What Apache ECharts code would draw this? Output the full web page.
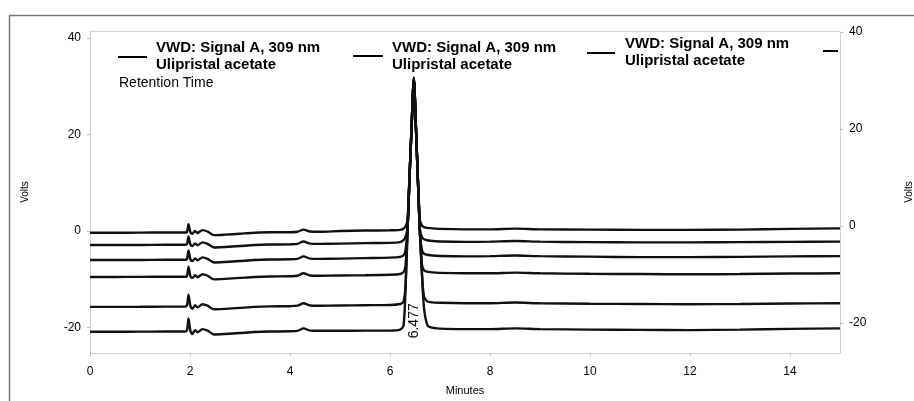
<!DOCTYPE html>
<html>
<head>
<meta charset="utf-8">
<script src="https://cdn.jsdelivr.net/npm/echarts@6/dist/echarts.min.js"></script>
<style>
html,body{margin:0;padding:0;background:#fff;}
#chart{width:914px;height:401px;}
</style>
</head>
<body>
<div id="chart"></div>
<script>
// ---- data ----
const TIME = [0, 0.5, 1.0, 1.5, 1.9, 1.94, 1.97, 2.01, 2.05, 2.10, 2.15, 2.25, 2.35, 2.48, 2.7, 3.0, 3.3, 3.6, 4.0, 4.15, 4.27, 4.4, 4.6, 5.0, 5.5, 6.0, 6.2, 6.27, 6.31, 6.35, 6.39, 6.43, 6.477, 6.52, 6.56, 6.60, 6.64, 6.68, 6.74, 6.8, 7.0, 7.5, 8.0, 8.5, 9.0, 10, 11, 12, 13, 14, 15];

const TRACE_1 = [-0.35, -0.35, -0.33, -0.3, -0.3, -0.2, 1.4, -0.3, -0.55, 0.0, -0.4, 0.2, -0.1, -0.85, -0.75, -0.55, -0.35, -0.25, -0.25, -0.15, 0.3, -0.1, -0.15, 0.0, 0.1, 0.15, 0.25, 0.5, 0.95, 2.2, 11.3, 21.2, 31.8, 21.2, 10.3, 2.2, 1.1, 0.8, 0.65, 0.6, 0.45, 0.35, 0.35, 0.5, 0.35, 0.3, 0.25, 0.25, 0.3, 0.45, 0.55];
const TRACE_2 = [-2.9, -2.9, -2.88, -2.85, -2.85, -2.7, -1.1, -2.85, -3.1, -2.55, -2.95, -2.35, -2.65, -3.4, -3.3, -3.1, -2.9, -2.8, -2.75, -2.65, -2.15, -2.6, -2.65, -2.6, -2.5, -2.45, -2.3, -1.9, -1.2, 0.6, 11.0, 21.0, 31.7, 21.0, 10.0, 0.2, -1.3, -1.7, -1.9, -2.0, -2.15, -2.25, -2.2, -2.05, -2.2, -2.3, -2.35, -2.35, -2.3, -2.25, -2.2];
const TRACE_3 = [-6.0, -6.0, -5.98, -5.95, -5.95, -5.8, -4.0, -5.95, -6.2, -5.65, -6.05, -5.45, -5.75, -6.5, -6.4, -6.2, -6.0, -5.9, -5.85, -5.75, -5.25, -5.7, -5.75, -5.7, -5.6, -5.5, -5.35, -5.0, -4.0, 0.2, 11.0, 21.0, 31.6, 21.0, 10.0, -0.8, -4.0, -4.7, -4.9, -5.0, -5.15, -5.25, -5.2, -5.05, -5.2, -5.3, -5.4, -5.4, -5.35, -5.25, -5.2];
const TRACE_4 = [-9.5, -9.5, -9.48, -9.45, -9.45, -9.3, -7.4, -9.45, -9.7, -9.15, -9.55, -8.95, -9.25, -10.0, -9.9, -9.7, -9.5, -9.4, -9.35, -9.25, -8.75, -9.2, -9.25, -9.2, -9.15, -9.05, -8.9, -8.5, -7.2, 0.0, 11.0, 21.0, 31.6, 21.0, 10.0, -0.5, -7.0, -8.1, -8.4, -8.5, -8.65, -8.75, -8.75, -8.6, -8.75, -8.85, -8.9, -8.95, -8.9, -8.8, -8.75];
const TRACE_5 = [-15.7, -15.7, -15.68, -15.65, -15.65, -15.4, -13.2, -15.6, -16.1, -15.35, -15.8, -15.15, -15.45, -16.2, -16.1, -15.9, -15.7, -15.6, -15.55, -15.45, -14.95, -15.4, -15.45, -15.4, -15.35, -15.3, -15.1, -14.6, -11.5, 0.0, 11.0, 21.0, 31.5, 21.0, 10.0, -0.5, -9.0, -13.6, -14.5, -14.7, -14.85, -14.95, -14.95, -14.8, -14.95, -15.05, -15.1, -15.15, -15.1, -15.0, -14.95];
const TRACE_6 = [-20.85, -20.85, -20.82, -20.8, -20.8, -20.5, -18.1, -20.75, -21.3, -20.5, -20.95, -20.3, -20.6, -21.4, -21.3, -21.1, -20.9, -20.8, -20.75, -20.65, -20.15, -20.6, -20.65, -20.65, -20.6, -20.6, -20.4, -19.6, -12.0, 0.0, 11.0, 21.0, 31.5, 21.0, 10.0, -0.5, -9.0, -16.0, -19.3, -19.9, -20.2, -20.3, -20.3, -20.15, -20.3, -20.4, -20.45, -20.5, -20.4, -20.25, -20.15];

const TRACES = [TRACE_1, TRACE_2, TRACE_3, TRACE_4, TRACE_5, TRACE_6];
const X_TICKS = [0, 2, 4, 6, 8, 10, 12, 14];
const Y_TICKS = [-20, 0, 20, 40];
const PEAK_TIME = 6.477;
const PEAK_LABEL = '6.477';
const LEGEND_LINE_1 = 'VWD: Signal A, 309 nm';
const LEGEND_LINE_2 = 'Ulipristal acetate';
const RETENTION_LABEL = 'Retention Time';
const X_NAME = 'Minutes';
const Y_NAME = 'Volts';

// ---- chart ----
const FONT = '"Liberation Sans", Arial, sans-serif';
const chart = echarts.init(document.getElementById('chart'), null, {renderer: 'canvas'});

const series = TRACES.map((vals, k) => {
  const s = {
    type: 'line',
    name: 'trace' + (k + 1),
    data: TIME.map((t, i) => [t, vals[i]]),
    showSymbol: false,
    smooth: 0.25,
    lineStyle: {color: '#111', width: 2.4},
    silent: true,
    z: 3
  };
  if (k === TRACES.length - 1) {
    s.markPoint = {
      symbol: 'circle', symbolSize: 0,
      data: [{coord: [PEAK_TIME, vals[0]]}],
      label: {
        show: true, formatter: PEAK_LABEL, rotate: 90,
        position: 'inside', offset: [11, 0],
        color: '#000', fontSize: 14, fontFamily: FONT
      }
    };
  }
  return s;
});

function legendItem(x, lineY, lineX1, lineX2, t1Y, t2Y) {
  return [
    {type: 'line', shape: {x1: lineX1, y1: lineY, x2: lineX2, y2: lineY}, style: {stroke: '#000', lineWidth: 2}},
    {type: 'text', x: x, y: t1Y, style: {text: LEGEND_LINE_1, font: 'bold 15px ' + FONT, fill: '#000', verticalAlign: 'middle', textVerticalAlign: 'middle'}},
    {type: 'text', x: x, y: t2Y, style: {text: LEGEND_LINE_2, font: 'bold 15px ' + FONT, fill: '#000', verticalAlign: 'middle', textVerticalAlign: 'middle'}}
  ];
}

const graphics = [
  {type: 'rect', shape: {x: 9.5, y: 15.5, width: 1200, height: 1200}, style: {fill: 'none', stroke: '#777', lineWidth: 1.5}, z: 0},
  ...legendItem(156, 57, 118, 147, 48, 65),
  ...legendItem(392, 56, 353, 383, 47.5, 64.5),
  ...legendItem(625, 53, 587, 615, 44, 61),
  {type: 'line', shape: {x1: 823, y1: 51, x2: 838, y2: 51}, style: {stroke: '#000', lineWidth: 2}},
  {type: 'text', x: 119, y: 83, style: {text: RETENTION_LABEL, font: '14px ' + FONT, fill: '#000', verticalAlign: 'middle', textVerticalAlign: 'middle'}}
];

const dotted = {show: true, onZero: false, lineStyle: {color: '#c8c8c8', type: 'dotted', width: 1}};

chart.setOption({
  animation: false,
  backgroundColor: '#fff',
  grid: {left: 90, right: 74, top: 31, bottom: 48, containLabel: false, outerBoundsMode: 'none'},
  xAxis: [{
    type: 'value', min: 0, max: 15,
    name: X_NAME, nameLocation: 'middle', nameGap: 32,
    nameTextStyle: {fontSize: 11, color: '#000', fontFamily: FONT},
    axisLine: dotted,
    axisTick: {show: true, length: 3, lineStyle: {color: '#bbb'}, customValues: X_TICKS},
    axisLabel: {fontSize: 12, color: '#000', fontFamily: FONT, margin: 13, customValues: X_TICKS},
    splitLine: {show: false}
  }, {
    type: 'value', min: 0, max: 15, position: 'top',
    axisLine: dotted, axisTick: {show: false}, axisLabel: {show: false}, splitLine: {show: false}
  }],
  yAxis: [{
    type: 'value', min: -25.24, max: 41.4, position: 'left',
    name: Y_NAME, nameLocation: 'middle', nameGap: 60, nameRotate: 90,
    nameTextStyle: {fontSize: 10, color: '#000', fontFamily: FONT},
    axisLine: dotted,
    axisTick: {show: true, length: 3, lineStyle: {color: '#bbb'}, customValues: Y_TICKS},
    axisLabel: {fontSize: 12, color: '#000', fontFamily: FONT, margin: 9, customValues: Y_TICKS},
    splitLine: {show: false}
  }, {
    type: 'value', min: -26.2, max: 40.2, position: 'right',
    name: Y_NAME, nameLocation: 'middle', nameGap: 64, nameRotate: 90,
    nameTextStyle: {fontSize: 10, color: '#000', fontFamily: FONT},
    axisLine: dotted,
    axisTick: {show: true, length: 3, lineStyle: {color: '#bbb'}, customValues: Y_TICKS},
    axisLabel: {fontSize: 12, color: '#000', fontFamily: FONT, margin: 9, customValues: Y_TICKS},
    splitLine: {show: false}
  }],
  graphic: graphics,
  series: series
});
</script>
</body>
</html>
